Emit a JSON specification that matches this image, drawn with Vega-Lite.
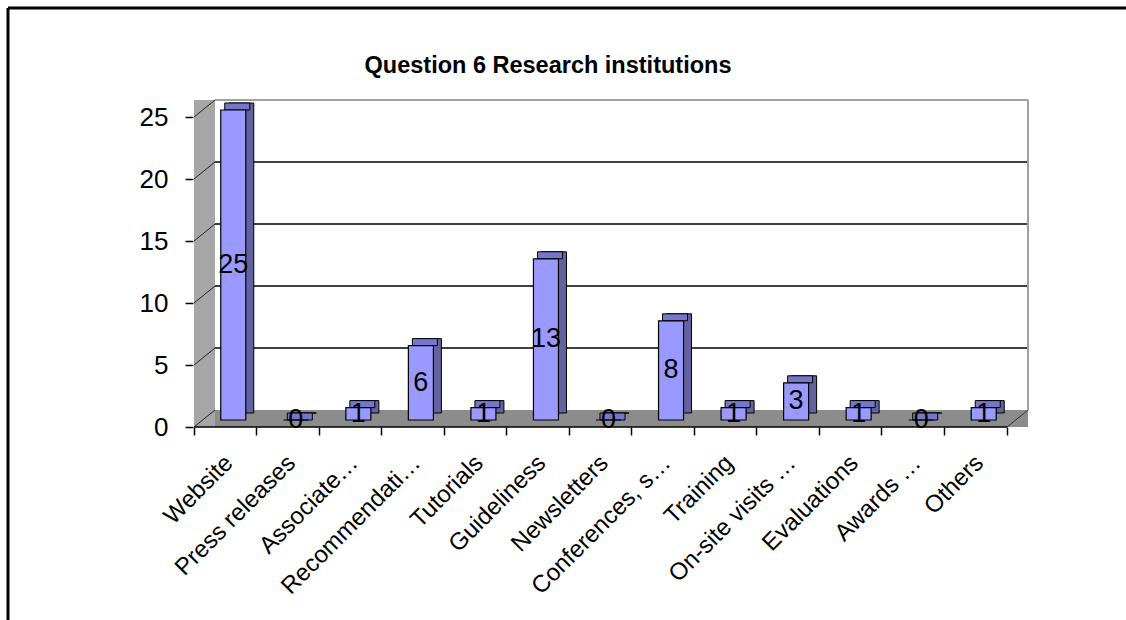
{
  "$schema": "https://vega.github.io/schema/vega-lite/v6.json",
  "autosize": {"type": "none"},
  "width": 1118,
  "height": 612,
  "padding": {"left": 8, "top": 8, "right": 0, "bottom": 0},
  "background": "white",
  "title": {
    "text": "Question 6 Research institutions",
    "font": "Liberation Sans",
    "fontSize": 23.5,
    "fontWeight": "bold",
    "color": "black",
    "anchor": "middle",
    "frame": "group",
    "baseline": "alphabetic",
    "offset": -88,
    "dx": -19
  },
  "config": {
    "font": "Liberation Sans",
    "view": {"stroke": "black", "strokeWidth": 3, "strokeDash": [1118, 1730, 612, 0]}
  },
  "datasets": {
    "answers": [
      {"channel": "Website", "count": 25},
      {"channel": "Press releases", "count": 0},
      {"channel": "Associate…", "count": 1},
      {"channel": "Recommendati…", "count": 6},
      {"channel": "Tutorials", "count": 1},
      {"channel": "Guideliness", "count": 13},
      {"channel": "Newsletters", "count": 0},
      {"channel": "Conferences, s…", "count": 8},
      {"channel": "Training", "count": 1},
      {"channel": "On-site visits …", "count": 3},
      {"channel": "Evaluations", "count": 1},
      {"channel": "Awards …", "count": 0},
      {"channel": "Others", "count": 1}
    ],
    "levels": [
      {"level": 0}, {"level": 5}, {"level": 10}, {"level": 15}, {"level": 20}, {"level": 25}
    ]
  },
  "resolve": {"scale": {"x": "independent"}},
  "layer": [
    {
      "data": {"name": "levels"},
      "layer": [
        {
          "transform": [{"filter": "datum.level == 0"}],
          "mark": {"type": "rect", "fill": "#8c8c8c", "x2Offset": 21, "y2Offset": -17},
          "encoding": {
            "x": {"datum": 0, "type": "quantitative", "scale": {"domain": [0, 13], "range": [186, 999], "nice": false, "zero": false}, "axis": null},
            "x2": {"datum": 13},
            "y": {"datum": 0, "type": "quantitative", "scale": {"domain": [0, 25], "range": [419, 109], "nice": false, "zero": false}},
            "y2": {"datum": 0}
          }
        },
        {
          "transform": [{"filter": "datum.level == 0"}],
          "mark": {"type": "rect", "fill": "#a6a6a6", "x2Offset": 21, "y2Offset": -17},
          "encoding": {
            "x": {"datum": 0, "type": "quantitative", "scale": {"domain": [0, 13], "range": [186, 999], "nice": false, "zero": false}, "axis": null},
            "x2": {"datum": 0},
            "y": {"datum": 0, "type": "quantitative", "scale": {"domain": [0, 25], "range": [419, 109], "nice": false, "zero": false}},
            "y2": {"datum": 25}
          }
        },
        {
          "mark": {"type": "rule", "color": "#222222", "strokeWidth": 1, "x2Offset": 21, "y2Offset": -17},
          "encoding": {
            "x": {"datum": 0, "type": "quantitative", "scale": {"domain": [0, 13], "range": [186, 999], "nice": false, "zero": false}, "axis": null},
            "x2": {"datum": 0},
            "y": {"field": "level", "type": "quantitative", "scale": {"domain": [0, 25], "range": [419, 109], "nice": false, "zero": false}},
            "y2": {"field": "level"}
          }
        },
        {
          "transform": [{"filter": "datum.level > 0 && datum.level < 25"}],
          "mark": {"type": "rule", "color": "black", "strokeWidth": 1.6, "xOffset": 21, "x2Offset": 21, "yOffset": -17},
          "encoding": {
            "x": {"datum": 0, "type": "quantitative", "scale": {"domain": [0, 13], "range": [186, 999], "nice": false, "zero": false}, "axis": null},
            "x2": {"datum": 13},
            "y": {"field": "level", "type": "quantitative", "scale": {"domain": [0, 25], "range": [419, 109], "nice": false, "zero": false}}
          }
        },
        {
          "transform": [{"filter": "datum.level == 25"}],
          "mark": {"type": "rule", "color": "#a0a0a0", "strokeWidth": 2, "xOffset": 21, "x2Offset": 21, "yOffset": -17},
          "encoding": {
            "x": {"datum": 0, "type": "quantitative", "scale": {"domain": [0, 13], "range": [186, 999], "nice": false, "zero": false}, "axis": null},
            "x2": {"datum": 13},
            "y": {"field": "level", "type": "quantitative", "scale": {"domain": [0, 25], "range": [419, 109], "nice": false, "zero": false}}
          }
        },
        {
          "transform": [{"filter": "datum.level == 0"}],
          "mark": {"type": "rule", "color": "#a0a0a0", "strokeWidth": 2, "xOffset": 21, "yOffset": -17, "y2Offset": -17},
          "encoding": {
            "x": {"datum": 13, "type": "quantitative", "scale": {"domain": [0, 13], "range": [186, 999], "nice": false, "zero": false}, "axis": null},
            "y": {"datum": 0, "type": "quantitative", "scale": {"domain": [0, 25], "range": [419, 109], "nice": false, "zero": false}},
            "y2": {"datum": 25}
          }
        },
        {
          "transform": [{"filter": "datum.level == 0"}],
          "mark": {"type": "rule", "color": "#333333", "strokeWidth": 1, "x2Offset": 21, "y2Offset": -17},
          "encoding": {
            "x": {"datum": 13, "type": "quantitative", "scale": {"domain": [0, 13], "range": [186, 999], "nice": false, "zero": false}, "axis": null},
            "x2": {"datum": 13},
            "y": {"datum": 0, "type": "quantitative", "scale": {"domain": [0, 25], "range": [419, 109], "nice": false, "zero": false}},
            "y2": {"datum": 0}
          }
        },
        {
          "transform": [{"filter": "datum.level == 0"}],
          "mark": {"type": "rule", "color": "black", "strokeWidth": 1.6},
          "encoding": {
            "x": {"datum": 0, "type": "quantitative", "scale": {"domain": [0, 13], "range": [186, 999], "nice": false, "zero": false}, "axis": null},
            "x2": {"datum": 13},
            "y": {"datum": 0, "type": "quantitative", "scale": {"domain": [0, 25], "range": [419, 109], "nice": false, "zero": false}}
          }
        }
      ]
    },
    {
      "data": {"name": "answers"},
      "encoding": {
        "x": {
          "field": "channel",
          "type": "nominal",
          "sort": null,
          "scale": {"type": "band", "paddingInner": 0, "paddingOuter": 0, "range": [186, 999]},
          "axis": {
            "orient": "bottom",
            "offset": -193,
            "title": null,
            "domain": false,
            "bandPosition": 1,
            "tickExtra": true,
            "tickSize": 8,
            "tickColor": "black",
            "tickWidth": 1.5,
            "labelAngle": -45,
            "labelAlign": "right",
            "labelBaseline": "middle",
            "labelOffset": 4,
            "labelPadding": 24,
            "labelFontSize": 24,
            "labelColor": "black",
            "labelLimit": 400,
            "labelOverlap": false
          }
        }
      },
      "layer": [
        {
          "mark": {"type": "bar", "width": {"band": 0.4}, "fill": "#62629e", "stroke": "black", "strokeWidth": 1, "xOffset": 16, "yOffset": -14, "y2Offset": -14},
          "encoding": {
            "y": {"field": "count", "type": "quantitative", "scale": {"domain": [0, 25], "range": [419, 109], "nice": false, "zero": false}}
          }
        },
        {
          "mark": {"type": "bar", "width": {"band": 0.4}, "fill": "#7676cc", "stroke": "black", "strokeWidth": 1, "xOffset": 12, "yOffset": -14, "y2Offset": -7},
          "encoding": {
            "y": {"field": "count", "type": "quantitative", "scale": {"domain": [0, 25], "range": [419, 109], "nice": false, "zero": false}},
            "y2": {"field": "count"}
          }
        },
        {
          "mark": {"type": "bar", "width": {"band": 0.4}, "fill": "#9999ff", "stroke": "black", "strokeWidth": 1.2, "xOffset": 8, "yOffset": -7, "y2Offset": -7},
          "encoding": {
            "y": {
              "field": "count",
              "type": "quantitative",
              "scale": {"domain": [0, 25], "range": [419, 109], "nice": false, "zero": false},
              "axis": {
                "values": [0, 5, 10, 15, 20, 25],
                "offset": -185,
                "title": null,
                "domain": false,
                "grid": false,
                "tickSize": 8,
                "tickColor": "black",
                "tickWidth": 1.5,
                "labelFontSize": 26,
                "labelColor": "black",
                "labelPadding": 17,
                "labelFlush": false,
                "labelOverlap": false
              }
            }
          }
        },
        {
          "transform": [{"calculate": "datum.count / 2", "as": "label_y"}],
          "mark": {"type": "text", "fontSize": 27, "color": "black", "align": "center", "baseline": "middle", "xOffset": 8, "yOffset": -7},
          "encoding": {
            "y": {"field": "label_y", "type": "quantitative", "scale": {"domain": [0, 25], "range": [419, 109], "nice": false, "zero": false}},
            "text": {"field": "count", "type": "quantitative"}
          }
        }
      ]
    }
  ]
}
